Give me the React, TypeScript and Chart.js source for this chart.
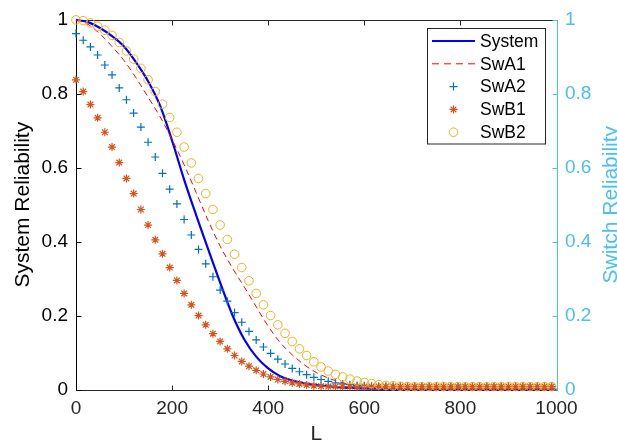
import React, { useEffect, useRef } from "react";
import { Chart, registerables } from "chart.js";

Chart.register(...registerables);

// ---------- data ----------
const L_LINE = [
  0, 25, 50, 75, 100, 125, 150, 175, 200, 225, 250, 275, 300, 325, 350, 375, 400, 425, 450, 475,
  500, 525, 550, 575, 600, 625, 650, 675, 700, 725, 750, 775, 800, 825, 850, 875, 900, 925, 950, 975, 1000,
];

const L_MARK = [
  0, 15, 30, 45, 60, 75, 90, 105, 120, 135, 150, 165, 180, 195, 210, 225, 240, 255, 270, 285,
  300, 315, 330, 345, 360, 375, 390, 405, 420, 435, 450, 465, 480, 495, 510, 525, 540, 555, 570, 585,
  600, 615, 630, 645, 660, 675, 690, 705, 720, 735, 750, 765, 780, 795, 810, 825, 840, 855, 870, 885,
  900, 915, 930, 945, 960, 975, 990,
];

const SYSTEM = [
  1.0, 0.994, 0.978, 0.956, 0.928, 0.885, 0.834, 0.768, 0.673, 0.568, 0.472, 0.38, 0.289, 0.203, 0.136,
  0.089, 0.057, 0.036, 0.024, 0.017, 0.012, 0.009, 0.006, 0.004, 0.003, 0.002, 0.001,
  0, 0, 0, 0, 0, 0, 0, 0, 0, 0, 0, 0, 0, 0,
];

const SW_A1 = [
  1.0, 0.988, 0.962, 0.928, 0.89, 0.843, 0.791, 0.738, 0.676, 0.608, 0.533, 0.457, 0.388, 0.33, 0.278,
  0.224, 0.171, 0.127, 0.094, 0.067, 0.046, 0.031, 0.02, 0.013, 0.008, 0.005, 0.003, 0.002, 0.001,
  0, 0, 0, 0, 0, 0, 0, 0, 0, 0, 0, 0,
];

const SW_A2 = [
  0.963, 0.945, 0.927, 0.905, 0.878, 0.851, 0.816, 0.784, 0.748, 0.71, 0.669, 0.629, 0.585, 0.542, 0.502,
  0.46, 0.418, 0.379, 0.34, 0.305, 0.269, 0.239, 0.208, 0.182, 0.157, 0.134, 0.115, 0.098, 0.082, 0.069,
  0.057, 0.048, 0.04, 0.033, 0.027, 0.022, 0.018, 0.015, 0.013, 0.011, 0.01, 0.009,
  0.008, 0.008, 0.008, 0.008, 0.008, 0.008, 0.008, 0.008, 0.008, 0.008, 0.008, 0.008, 0.008, 0.008,
  0.008, 0.008, 0.008, 0.008, 0.008, 0.008, 0.008, 0.008, 0.008, 0.008, 0.008,
];

const SW_B1 = [
  0.838, 0.806, 0.771, 0.735, 0.696, 0.656, 0.614, 0.571, 0.53, 0.487, 0.445, 0.405, 0.367, 0.33, 0.295,
  0.26, 0.229, 0.2, 0.175, 0.151, 0.13, 0.11, 0.092, 0.076, 0.063, 0.052, 0.042, 0.034, 0.027, 0.022,
  0.018, 0.015, 0.012, 0.01, 0.009,
  0.008, 0.008, 0.008, 0.008, 0.008, 0.008, 0.008, 0.008, 0.008, 0.008, 0.008, 0.008, 0.008, 0.008, 0.008, 0.008,
  0.008, 0.008, 0.008, 0.008, 0.008, 0.008, 0.008, 0.008, 0.008, 0.008, 0.008, 0.008, 0.008, 0.008, 0.008, 0.008,
];

const SW_B2 = [
  1.0, 0.998, 0.992, 0.983, 0.972, 0.958, 0.939, 0.916, 0.894, 0.869, 0.838, 0.806, 0.772, 0.736, 0.696,
  0.656, 0.613, 0.571, 0.53, 0.487, 0.445, 0.406, 0.366, 0.33, 0.294, 0.26, 0.229, 0.2, 0.175, 0.152,
  0.13, 0.11, 0.092, 0.075, 0.061, 0.05, 0.041, 0.034, 0.028, 0.023, 0.019, 0.016, 0.013, 0.011, 0.01, 0.009,
  0.008, 0.008, 0.008, 0.008, 0.008, 0.008, 0.008, 0.008, 0.008, 0.008, 0.008,
  0.008, 0.008, 0.008, 0.008, 0.008, 0.008, 0.008, 0.008, 0.008, 0.008,
];

const SERIES_NAMES = ["System", "SwA1", "SwA2", "SwB1", "SwB2"];
const X_TICKS = [0, 200, 400, 600, 800, 1000];
const Y_TICKS = [0, 0.2, 0.4, 0.6, 0.8, 1];
const X_TITLE = "L";
const Y_TITLE = "System Reliability";
const Y2_TITLE = "Switch Reliability";

// ---------- styles ----------
const FONT = '"Liberation Sans", Arial, Helvetica, sans-serif';
const AXIS_GRAY = "#262626";
const RIGHT_BLUE = "#4DBEEE";
const TICK_LEN = 5;

function drawMarker(ctx: CanvasRenderingContext2D, style: string, x: number, y: number, r: number) {
  ctx.beginPath();
  if (style === "circle") {
    ctx.arc(x, y, r, 0, Math.PI * 2);
  } else {
    ctx.moveTo(x - r, y);
    ctx.lineTo(x + r, y);
    ctx.moveTo(x, y - r);
    ctx.lineTo(x, y + r);
    if (style === "star") {
      const d = r * Math.SQRT1_2;
      ctx.moveTo(x - d, y - d);
      ctx.lineTo(x + d, y + d);
      ctx.moveTo(x - d, y + d);
      ctx.lineTo(x + d, y - d);
    }
  }
  ctx.stroke();
}

const axesPlugin = {
  id: "matlabAxes",
  beforeDatasetsDraw(chart: any) {
    const { ctx, chartArea } = chart;
    const x = chart.scales.x;
    const y = chart.scales.y;
    const y2 = chart.scales.y2;
    const L = Math.round(chartArea.left) + 0.5;
    const R = Math.round(chartArea.right) + 0.5;
    const T = Math.round(chartArea.top) + 0.5;
    const B = Math.round(chartArea.bottom) + 0.5;
    ctx.save();
    ctx.lineWidth = 1;
    // top & bottom
    ctx.strokeStyle = AXIS_GRAY;
    ctx.beginPath();
    ctx.moveTo(L, T);
    ctx.lineTo(R, T);
    ctx.moveTo(L, B);
    ctx.lineTo(R, B);
    for (const v of X_TICKS) {
      const px = Math.round(x.getPixelForValue(v)) + 0.5;
      ctx.moveTo(px, B);
      ctx.lineTo(px, B - TICK_LEN);
      ctx.moveTo(px, T);
      ctx.lineTo(px, T + TICK_LEN);
    }
    ctx.stroke();
    // left axis
    ctx.strokeStyle = "#000000";
    ctx.beginPath();
    ctx.moveTo(L, T);
    ctx.lineTo(L, B);
    for (const v of Y_TICKS) {
      const py = Math.round(y.getPixelForValue(v)) + 0.5;
      ctx.moveTo(L, py);
      ctx.lineTo(L + TICK_LEN, py);
    }
    ctx.stroke();
    // right axis
    ctx.strokeStyle = RIGHT_BLUE;
    ctx.beginPath();
    ctx.moveTo(R, T);
    ctx.lineTo(R, B);
    for (const v of Y_TICKS) {
      const py = Math.round(y2.getPixelForValue(v)) + 0.5;
      ctx.moveTo(R, py);
      ctx.lineTo(R - TICK_LEN, py);
    }
    ctx.stroke();
    ctx.restore();
  },
  afterDraw(chart: any) {
    const { ctx, chartArea } = chart;
    const midY = (chartArea.top + chartArea.bottom) / 2;
    const midX = (chartArea.left + chartArea.right) / 2;
    ctx.save();
    ctx.font = `21px ${FONT}`;
    ctx.textAlign = "center";
    ctx.textBaseline = "alphabetic";
    // x title
    ctx.fillStyle = AXIS_GRAY;
    ctx.fillText(X_TITLE, midX, 440);
    // left title
    ctx.save();
    ctx.translate(29, midY);
    ctx.rotate(-Math.PI / 2);
    ctx.fillStyle = "#000000";
    ctx.fillText(Y_TITLE, 0, 0);
    ctx.restore();
    // right title (reads bottom-to-top, clipped by canvas edge)
    ctx.save();
    ctx.translate(616.5, midY);
    ctx.rotate(-Math.PI / 2);
    ctx.fillStyle = RIGHT_BLUE;
    ctx.fillText(Y2_TITLE, 0, 0);
    ctx.restore();
    ctx.restore();
  },
};

const legendPlugin = {
  id: "boxLegend",
  afterDatasetsDraw(chart: any) {
    const { ctx } = chart;
    const bx = 427.5, by = 28.5, bw = 118, bh = 115.5;
    ctx.save();
    ctx.fillStyle = "#ffffff";
    ctx.fillRect(bx, by, bw, bh);
    ctx.strokeStyle = AXIS_GRAY;
    ctx.lineWidth = 1;
    ctx.strokeRect(bx, by, bw, bh);
    ctx.font = `17.5px ${FONT}`;
    ctx.textAlign = "left";
    ctx.textBaseline = "middle";
    chart.data.datasets.forEach((ds: any, i: number) => {
      const yy = 41 + i * 22.8;
      ctx.strokeStyle = ds.borderColor;
      if (ds.showLine) {
        ctx.lineWidth = ds.borderWidth;
        ctx.setLineDash(ds.borderDash ? [7, 5] : []);
        ctx.beginPath();
        ctx.moveTo(432, yy);
        ctx.lineTo(475, yy);
        ctx.stroke();
        ctx.setLineDash([]);
      } else {
        ctx.lineWidth = ds.pointBorderWidth;
        drawMarker(ctx, ds.pointStyle, 453.5, yy, ds.pointRadius);
      }
      ctx.fillStyle = "#000000";
      ctx.fillText(ds.label, 480, yy + 1);
    });
    ctx.restore();
  },
};

function pts(xs: number[], ys: number[]) {
  return xs.map((x, i) => ({ x, y: ys[i] }));
}

export default function App() {
  const ref = useRef<HTMLCanvasElement | null>(null);
  useEffect(() => {
    if (!ref.current) return;
    Chart.defaults.font.family = FONT;
    const chart = new Chart(ref.current, {
      type: "scatter",
      data: {
        datasets: [
          {
            label: SERIES_NAMES[0],
            data: pts(L_LINE, SYSTEM),
            showLine: true,
            borderColor: "#0000FF",
            borderWidth: 2.2,
            pointRadius: 0,
            cubicInterpolationMode: "monotone",
            clip: false,
            order: 5,
          },
          {
            label: SERIES_NAMES[1],
            data: pts(L_LINE, SW_A1),
            showLine: true,
            borderColor: "#FF0000",
            borderWidth: 1,
            borderDash: [6, 4],
            pointRadius: 0,
            cubicInterpolationMode: "monotone",
            clip: false,
            order: 4,
          },
          {
            label: SERIES_NAMES[2],
            data: pts(L_MARK, SW_A2),
            showLine: false,
            pointStyle: "cross",
            pointRadius: 4,
            pointBorderWidth: 1.2,
            borderColor: "#0072BD",
            pointBorderColor: "#0072BD",
            backgroundColor: "rgba(0,0,0,0)",
            clip: false,
            order: 3,
          },
          {
            label: SERIES_NAMES[3],
            data: pts(L_MARK, SW_B1),
            showLine: false,
            pointStyle: "star",
            pointRadius: 4,
            pointBorderWidth: 1.2,
            borderColor: "#D95319",
            pointBorderColor: "#D95319",
            backgroundColor: "rgba(0,0,0,0)",
            clip: false,
            order: 2,
          },
          {
            label: SERIES_NAMES[4],
            data: pts(L_MARK, SW_B2),
            showLine: false,
            pointStyle: "circle",
            pointRadius: 4.3,
            pointBorderWidth: 1,
            borderColor: "#EDB120",
            pointBorderColor: "#EDB120",
            backgroundColor: "rgba(0,0,0,0)",
            pointBackgroundColor: "rgba(0,0,0,0)",
            clip: false,
            order: 1,
          },
        ] as any,
      },
      options: {
        animation: false,
        responsive: false,
        events: [],
        layout: { padding: { top: 17.5, left: 0, right: 0, bottom: 0 } },
        plugins: { legend: { display: false }, tooltip: { enabled: false } },
        scales: {
          x: {
            type: "linear",
            position: "bottom",
            min: 0,
            max: 1000,
            grid: { display: false, drawTicks: false },
            border: { display: false },
            afterBuildTicks: (s: any) => {
              s.ticks = X_TICKS.map((v) => ({ value: v }));
            },
            ticks: {
              autoSkip: false,
              maxRotation: 0,
              color: AXIS_GRAY,
              font: { size: 19 },
              padding: 8,
              callback: (v: any) => String(v),
            },
            afterFit: (s: any) => {
              s.height = 55.5;
            },
          },
          y: {
            type: "linear",
            position: "left",
            min: 0,
            max: 1,
            grid: { display: false, drawTicks: false },
            border: { display: false },
            afterBuildTicks: (s: any) => {
              s.ticks = Y_TICKS.map((v) => ({ value: v }));
            },
            ticks: {
              color: "#000000",
              font: { size: 19 },
              padding: 8,
              callback: (v: any) => String(v),
            },
            afterFit: (s: any) => {
              s.width = 76;
            },
          },
          y2: {
            type: "linear",
            position: "right",
            min: 0,
            max: 1,
            grid: { display: false, drawTicks: false },
            border: { display: false },
            afterBuildTicks: (s: any) => {
              s.ticks = Y_TICKS.map((v) => ({ value: v }));
            },
            ticks: {
              color: RIGHT_BLUE,
              font: { size: 19 },
              padding: 8.5,
              callback: (v: any) => String(v),
            },
            afterFit: (s: any) => {
              s.width = 60.5;
            },
          },
        },
      } as any,
      plugins: [axesPlugin, legendPlugin],
    });
    return () => chart.destroy();
  }, []);

  return (
    <div style={{ position: "fixed", left: 0, top: 0, width: 617, height: 445, background: "#ffffff" }}>
      <canvas ref={ref} width={617} height={445} style={{ display: "block", width: 617, height: 445 }} />
    </div>
  );
}
